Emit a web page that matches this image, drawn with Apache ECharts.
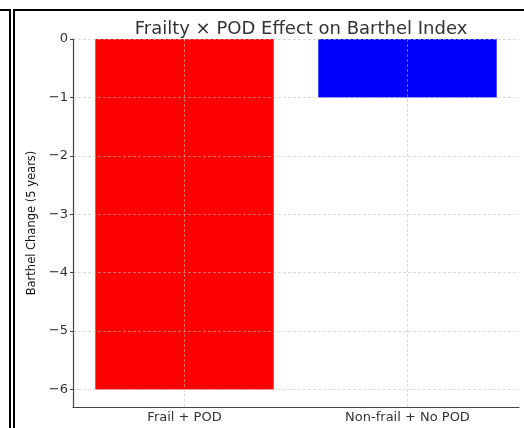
<!DOCTYPE html>
<html>
<head>
<meta charset="utf-8">
<script src="https://cdn.jsdelivr.net/npm/echarts@6/dist/echarts.min.js"></script>
<style>
  html, body { margin: 0; padding: 0; background: #fff; }
  #chart { width: 524px; height: 428px; }
</style>
</head>
<body>
<div id="chart"></div>
<script>
var groups = ['Frail + POD', 'Non-frail + No POD'];
var barthelChange = [-6, -1];
var barColors = ['#ff0000', '#0000ff'];

var fnt = 'DejaVu Sans';

var chart = echarts.init(document.getElementById('chart'));
chart.setOption({
	animation: false,
	backgroundColor: '#fff',
	title: {
		text: 'Frailty \u00d7 POD Effect on Barthel Index',
		left: 296,
		top: 15,
		textAlign: 'center',
		textStyle: { fontFamily: fnt, fontSize: 18, fontWeight: 'normal', color: '#333' }
	},
	grid: { left: 73, right: 5, top: 39, bottom: 21 },
	xAxis: {
		type: 'category',
		data: groups,
		z: 3,
		axisLine: { onZero: false, lineStyle: { color: '#444', width: 1.2 } },
		axisTick: { alignWithLabel: true, length: 3, lineStyle: { color: '#444' } },
		axisLabel: { fontFamily: fnt, fontSize: 13, color: '#333', margin: 4 },
		splitLine: { show: false }
	},
	yAxis: {
		type: 'value',
		min: -6.3,
		max: 0,
		splitNumber: 6,
		z: 3,
		name: 'Barthel Change (5 years)',
		nameLocation: 'middle',
		nameGap: 30,
		nameTextStyle: { fontFamily: fnt, fontSize: 11.5, color: '#111' },
		axisLine: { show: true, lineStyle: { color: '#444', width: 1.2 } },
		axisTick: { show: true, length: 3, lineStyle: { color: '#444' } },
		axisLabel: {
			fontFamily: fnt, fontSize: 13, color: '#333', margin: 5,
			showMinLabel: false,
			formatter: function (v) { return String(v).replace('-', '\u2212'); }
		},
		splitLine: { show: true, lineStyle: { color: 'rgba(190,190,190,0.7)', type: [3, 2], width: 0.8 } }
	},
	series: [{
		type: 'bar',
		barCategoryGap: '20%',
		data: barthelChange.map(function (v, i) {
			return { value: v, itemStyle: { color: barColors[i] } };
		}),
		markLine: {
			silent: true,
			symbol: 'none',
			label: { show: false },
			lineStyle: { color: 'rgba(190,190,190,0.7)', type: [3, 2], width: 0.8 },
			data: groups.map(function (g) { return { xAxis: g }; })
		}
	}],
	graphic: [
		{ type: 'rect', shape: { x: 9, y: 9, width: 2, height: 419 }, style: { fill: '#000' } },
		{ type: 'rect', shape: { x: 13, y: 9, width: 2, height: 419 }, style: { fill: '#000' } },
		{ type: 'rect', shape: { x: 0, y: 9, width: 9, height: 2 }, style: { fill: '#000' } },
		{ type: 'rect', shape: { x: 15, y: 9, width: 509, height: 2 }, style: { fill: '#000' } }
	]
});
</script>
</body>
</html>
